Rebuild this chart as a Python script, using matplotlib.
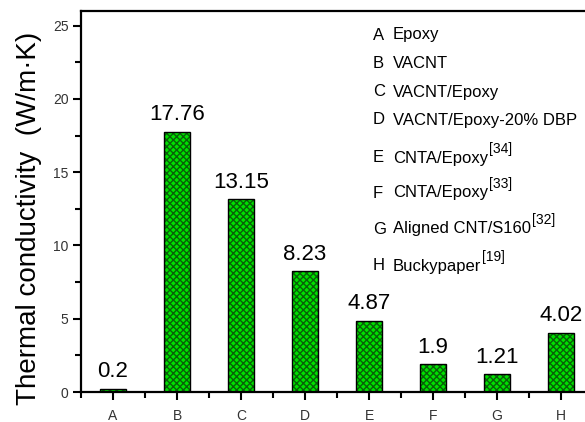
import numpy as np
import matplotlib.pyplot as plt
from matplotlib.ticker import MultipleLocator

plt.rcParams['font.family'] = ['Liberation Sans', 'DejaVu Sans']

samples = ['A', 'B', 'C', 'D', 'E', 'F', 'G', 'H']
conductivity = [0.2, 17.76, 13.15, 8.23, 4.87, 1.9, 1.21, 4.02]
value_labels = ['0.2', '17.76', '13.15', '8.23', '4.87', '1.9', '1.21', '4.02']
descriptions = ['Epoxy', 'VACNT', 'VACNT/Epoxy', 'VACNT/Epoxy-20% DBP',
                'CNTA/Epoxy', 'CNTA/Epoxy', 'Aligned CNT/S160', 'Buckypaper']
refs = ['', '', '', '', '[34]', '[33]', '[32]', '[19]']

fig = plt.figure(figsize=(5.85, 4.22), dpi=100)
ax = fig.add_axes([81 / 585, 30 / 422, 504 / 585, 381 / 422])

x = np.arange(len(samples))
# checkered green fill, then a black outline on top
ax.bar(x, conductivity, width=0.4, color='#00e000', edgecolor='#086008',
       hatch='xxxxx', linewidth=0)
ax.bar(x, conductivity, width=0.4, fill=False, edgecolor='black', linewidth=1)

for xi, v, lab in zip(x, conductivity, value_labels):
    ax.text(xi, v + 0.45, lab, ha='center', va='bottom', fontsize=16)

ax.set_xlim(-0.5, 7.375)
ax.set_ylim(0, 26)
ax.set_xticks(x)
ax.set_xticklabels(samples)
ax.xaxis.set_minor_locator(MultipleLocator(1, offset=0.5))
ax.yaxis.set_major_locator(MultipleLocator(5))
ax.yaxis.set_minor_locator(MultipleLocator(2.5))

for s in ['left', 'bottom', 'top']:
    ax.spines[s].set_linewidth(1.6)
ax.spines['right'].set_visible(False)

ax.tick_params(axis='both', which='major', direction='out', length=6, width=1.5,
               labelsize=10, labelcolor='#333333')
ax.tick_params(axis='both', which='minor', direction='out', length=4, width=1.5)
ax.tick_params(axis='x', which='major', pad=6)
ax.tick_params(axis='y', which='major', pad=3)

ax.set_ylabel('Thermal conductivity  (W/m·K)', fontsize=20)
ax.yaxis.set_label_coords(-0.077, 0.457)

# sample key in the upper right
key_y = [35, 63, 92, 120, 158, 193, 229, 266]
for name, desc, ref, py in zip(samples, descriptions, refs, key_y):
    yy = 1 - (py - 11) / 381
    ax.text(292 / 504, yy, name, transform=ax.transAxes, fontsize=12,
            ha='left', va='center')
    t = ax.text(312 / 504, yy, desc, transform=ax.transAxes, fontsize=12,
                ha='left', va='center')
    if ref:
        ax.annotate(ref, xy=(1, 1), xycoords=t, xytext=(0.5, -4),
                    textcoords='offset points', fontsize=10, ha='left', va='bottom')

fig.savefig('out.png', dpi=100)
